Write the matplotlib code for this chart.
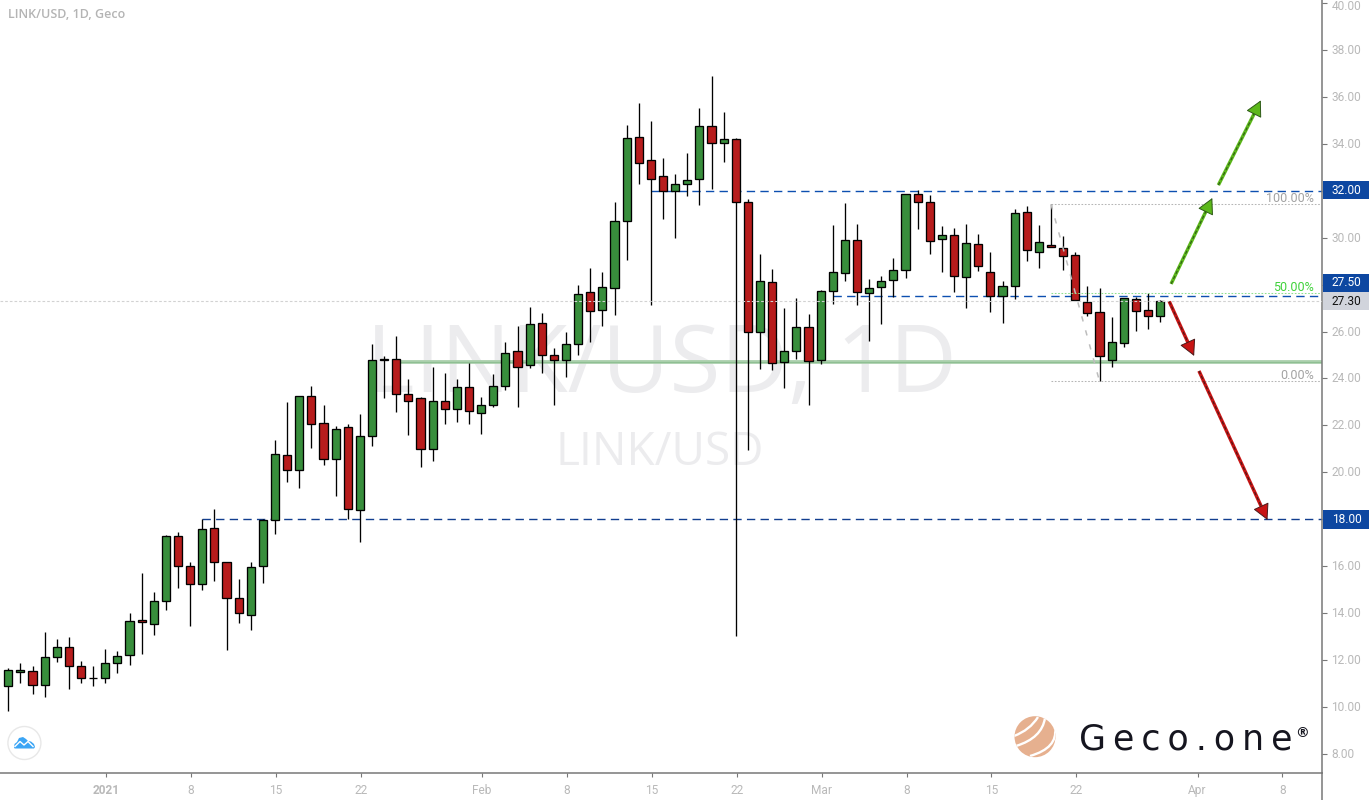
import numpy as np
import matplotlib
matplotlib.use("Agg")
import matplotlib.pyplot as plt
from matplotlib.patches import Rectangle, Circle, PathPatch, Polygon
from matplotlib.path import Path
from matplotlib.lines import Line2D
from matplotlib.transforms import Affine2D, ScaledTranslation

W, H = 1369, 800
AX_R, AX_B = 1322, 773
BASE_FONT = "Roboto"

# Days since 1 Jan 2021 for the first candle is -8; there is one candle per day.
first_day = -8
opens = [10.88,11.50,11.52,10.92,12.12,12.58,11.73,11.22,11.22,11.86,12.20,13.69,13.56,14.54,17.27,15.99,
         15.23,17.61,16.20,14.63,13.91,15.99,17.95,20.72,20.08,23.25,22.09,20.55,21.92,18.38,21.57,24.80,
         24.81,23.36,23.15,20.98,23.06,22.72,23.62,22.55,22.89,23.70,25.15,24.56,26.35,25.02,24.77,25.45,
         27.67,26.90,27.84,30.73,34.31,33.29,32.61,31.97,32.27,32.48,34.74,34.02,34.19,31.50,25.97,28.10,
         24.69,25.16,26.18,24.78,27.72,28.48,29.89,27.63,27.89,28.19,28.61,31.85,31.51,29.93,30.10,28.31,
         29.72,28.53,27.50,27.93,31.08,29.38,29.68,29.55,29.25,27.25,26.82,24.78,25.50,27.38,26.91,26.65]
highs = [11.65,11.86,11.77,13.18,12.88,12.97,11.95,11.73,12.46,12.37,14.00,15.71,14.89,17.31,17.44,16.16,
         18.00,18.46,16.20,15.44,16.20,18.00,21.36,22.98,23.25,23.68,22.87,21.96,22.06,22.47,25.49,24.95,
         25.83,23.96,23.23,24.47,24.22,23.96,24.64,23.19,24.17,25.54,26.22,27.03,26.81,25.28,26.00,27.99,
         28.69,28.52,31.50,34.78,35.72,34.95,33.38,32.70,33.59,35.51,36.87,35.34,34.23,31.63,29.29,28.65,
         26.99,27.42,26.74,27.76,30.53,31.47,30.57,28.23,28.36,29.12,31.85,32.02,31.81,30.49,30.40,30.57,
         30.15,29.38,28.14,31.21,31.34,30.53,31.42,30.06,29.38,27.93,27.84,26.61,27.42,27.46,27.63,27.33]
lows = [9.85,11.04,10.57,10.44,11.93,10.78,11.04,10.91,11.04,11.46,11.80,12.27,13.08,14.15,15.08,13.47,
        15.00,15.38,12.44,13.59,13.30,15.30,17.38,19.60,19.34,21.03,20.32,19.00,18.00,17.04,21.13,23.18,
        22.58,21.60,20.24,20.49,22.07,22.16,22.07,21.64,22.77,23.53,22.77,24.43,24.22,22.89,24.05,25.02,
        25.54,26.22,26.72,29.06,32.30,27.14,30.81,30.00,31.79,31.40,32.08,33.23,13.03,20.95,24.42,24.38,
        23.61,24.83,22.89,24.63,27.19,28.17,27.15,25.61,26.30,27.46,28.30,30.39,29.29,28.55,27.70,27.02,
        28.57,26.85,26.38,27.38,28.99,28.70,29.59,28.61,27.33,26.65,23.88,24.48,25.36,26.01,26.10,26.40]
closes = [11.56,11.56,10.92,12.12,12.58,11.73,11.22,11.22,11.86,12.16,13.65,13.61,14.50,17.27,15.99,15.23,
          17.57,16.20,14.63,13.99,15.95,17.95,20.77,20.08,23.25,22.04,20.55,21.83,18.42,21.57,24.77,24.83,
          23.36,23.02,20.98,23.06,22.72,23.62,22.60,22.89,23.70,25.07,24.51,26.30,25.02,24.77,25.45,27.62,
          26.86,27.88,30.69,34.23,33.20,32.52,31.97,32.27,32.44,34.74,34.02,34.19,31.50,25.97,28.14,24.65,
          25.16,26.18,24.73,27.72,28.53,29.89,27.67,27.84,28.14,28.61,31.85,31.51,29.85,30.10,28.36,29.76,
          28.78,27.50,27.93,31.04,29.46,29.80,29.59,29.21,27.33,26.78,24.95,25.54,27.42,26.86,26.65,27.29]

price_ticks = list(range(8, 41, 2))
hidden_price_tick = 28   # covered by the 27.50 scale label in the reference
date_tick_days = [0, 7, 14, 21, 31, 38, 45, 52, 59, 66, 73, 80, 90, 97]
date_tick_labels = ["2021", "8", "15", "22", "Feb", "8", "15", "22", "Mar", "8", "15", "22", "Apr", "8"]

level_upper = 32.00
level_mid = 27.50
level_lower = 18.00
level_support = 24.71
last_price = 27.30
fib_high = 31.42
fib_low = 23.88
fib_mid = 27.65
fib_start_day = 78
fib_end_day = 82

up_arrows = [((87.9, 28.03), (91.3, 31.69)), ((91.8, 32.24), (95.3, 35.85))]
down_arrows = [((87.75, 27.28), (89.8, 24.96)), ((90.2, 24.32), (95.85, 17.97))]

GREEN, RED = "#388E3C", "#B71C1C"
BLUE = "#0D47A1"
TICK = "#B9B9B9"

fig = plt.figure(figsize=(W / 100, H / 100), dpi=100, facecolor="white")
ax = fig.add_axes([0, (H - AX_B) / H, AX_R / W, AX_B / H])

# axis calibration
px_day, px_price = 12.125, 23.47
x0 = 105.3
ax.set_xlim(-x0 / px_day, (AX_R - x0) / px_day)
ax.set_ylim(8 + (754 - AX_B) / px_price, 8 + 754 / px_price)

for s in ("top", "left"):
    ax.spines[s].set_visible(False)
for s in ("right", "bottom"):
    ax.spines[s].set_color("#787878")
    ax.spines[s].set_linewidth(1.1)
ax.yaxis.tick_right()
ax.set_yticks(price_ticks)
ax.set_yticklabels(["" if v == hidden_price_tick else f"{v:.2f}" for v in price_ticks],
                   fontsize=8.6, color=TICK, family=BASE_FONT)
ax.tick_params(axis="y", length=3.6, width=0.8, color="#787878", pad=3.2)
up_one_px = ScaledTranslation(0, 1 / 100, fig.dpi_scale_trans)
down_two_px = ScaledTranslation(0, -2 / 100, fig.dpi_scale_trans)
for v, lab in zip(price_ticks, ax.get_yticklabels()):
    # the top label stays just inside the picture
    lab.set_transform(lab.get_transform() + (down_two_px if v == price_ticks[-1] else up_one_px))
ax.set_xticks(np.array(date_tick_days) + 0.08)
ax.set_xticklabels(date_tick_labels, fontsize=8.6, color=TICK, family=BASE_FONT)
ax.tick_params(axis="x", length=3, width=0.8, color="#787878", pad=5)
ax.get_xticklabels()[0].set_fontweight("bold")

PX = Affine2D().scale(1 / W, -1 / H).translate(0, 1) + fig.transFigure

# watermark and header
ax.text(661 / W, 1 - 392 / H, "LINK/USD, 1D", transform=fig.transFigure, ha="center", va="baseline",
        fontsize=67, color="#ECECEE", family="Open Sans", zorder=0)
ax.text(660 / W, 1 - 465 / H, "LINK/USD", transform=fig.transFigure, ha="center", va="baseline",
        fontsize=33, color="#ECECEE", family="Open Sans", zorder=0)
ax.text(8 / W, 1 - 15 / H, "LINK/USD, 1D, Geco", transform=fig.transFigure, ha="left", va="center",
        fontsize=9, color="#B4B4B4", family="Open Sans", fontweight="semibold", zorder=6)

# levels beneath the candles
right = ax.get_xlim()[1]
left = ax.get_xlim()[0]
dash = (0, (6.0, 3.8))
ax.plot([24.3, right], [level_support] * 2, color="#A9CFAB", lw=2.7, zorder=1, solid_capstyle="butt")
ax.plot([24.3, right], [level_support] * 2, color="#8FBF93", lw=0.7, zorder=1.1, solid_capstyle="butt")
ax.plot([45, right], [level_upper] * 2, color="#0D4FB0", lw=1.0, ls=dash, zorder=1.2)
ax.plot([60, right], [level_mid] * 2, color="#0D4FB0", lw=1.0, ls=dash, zorder=1.2)
ax.plot([8, right], [level_lower] * 2, color="#123E8F", lw=1.0, ls=dash, zorder=1.2)

# candles
days = first_day + np.arange(len(opens))
o, h, l, c = map(np.array, (opens, highs, lows, closes))
colors = np.where(c >= o, GREEN, RED)
ax.vlines(days, l, h, color="black", lw=0.95, zorder=2)
ax.bar(days, np.abs(c - o), bottom=np.minimum(o, c), width=0.67, color=colors, edgecolor="black",
       linewidth=0.95, zorder=3)

# last price line above candles
ax.plot([left, right], [last_price] * 2, color="#D2D2D2", lw=0.8, ls=(0, (2.4, 1.8)), zorder=4)

# fib retracement
ax.plot([fib_start_day, fib_end_day], [fib_high, fib_low], color="#BDBDBD", lw=1.1, ls=(0, (3.5, 6)), zorder=4)
for val, col in ((fib_high, "#B5B5B5"), (fib_low, "#B5B5B5"), (fib_mid, "#8FE08F")):
    ax.plot([fib_start_day, right - 0.1], [val] * 2, color=col, lw=0.75, ls=(0, (1.6, 1.6)), zorder=4)
ytr = ax.get_yaxis_transform()
for val, txt, col in ((fib_high, "100.00%", "#A2A2A2"), (fib_mid, "50.00%", "#3FD23A"), (fib_low, "0.00%", "#A2A2A2")):
    ax.text(1314 / AX_R, val - 0.03, txt, transform=ytr, ha="right", va="bottom", fontsize=9,
            color=col, family=BASE_FONT, zorder=5)


# trend arrows
def draw_arrow(start, end, face, edge):
    s, e = np.array(start), np.array(end)
    length = np.hypot((e[0] - s[0]) * px_day, (e[1] - s[1]) * px_price)
    neck = s + (1 - 13 / length) * (e - s)
    ax.plot([s[0], neck[0]], [s[1], neck[1]], color=face, lw=2.5, zorder=5, solid_capstyle="butt")
    ax.plot([s[0], neck[0]], [s[1], neck[1]], color=edge, lw=0.8, ls=(0, (3, 2)), zorder=5.1)
    ax.annotate("", xy=e, xytext=neck, zorder=5.2,
                arrowprops=dict(arrowstyle="-|>,head_length=0.72,head_width=0.38", mutation_scale=14,
                                facecolor=face, edgecolor=edge, lw=0.7, shrinkA=0, shrinkB=0))


for a, b in up_arrows:
    draw_arrow(a, b, "#5CB81A", "#2E5A18")
for a, b in down_arrows:
    draw_arrow(a, b, "#C81414", "#4A1A1A")

# price labels on the scale
box_w = (W - AX_R) / AX_R
boxes = [(32.03, f"{level_upper:.2f}", BLUE, "white"),
         (28.07, f"{level_mid:.2f}", BLUE, "white"),
         (27.30, f"{last_price:.2f}", "#D1D4DC", "#111111"),
         (18.00, f"{level_lower:.2f}", BLUE, "white")]
bh = 18.5 / px_price
for pos, txt, fc, tc in boxes:
    ax.add_patch(Rectangle((1.0005, pos - bh / 2), box_w, bh, transform=ytr, facecolor=fc, edgecolor="none",
                           clip_on=False, zorder=7))
    ax.text(1332 / AX_R, pos, txt, transform=ytr, ha="left", va="center", fontsize=8.6, color=tc,
            family=BASE_FONT, zorder=8, clip_on=False)

# axis stub under the time scale
fig.add_artist(Line2D([AX_R, AX_R], [AX_B, H], transform=PX, color="#787878", lw=1.1))

# chart-service badge
fig.add_artist(Circle((24.4, 743), 16.5, transform=PX, facecolor="white", edgecolor="#E8E8E8", lw=1))
cloud = [(14, 748), (14.5, 744), (17, 742), (19, 738), (23, 737), (26, 739), (28, 741), (31, 741.5),
         (34, 744), (35, 747), (34, 748.5), (15, 748.5)]
fig.add_artist(Polygon(cloud, closed=True, transform=PX, facecolor="#3BA5F5", edgecolor="none"))
fig.add_artist(Line2D([15, 20, 24, 28, 33], [746.5, 741.5, 745, 741.5, 746.5], transform=PX, color="white", lw=1))

# Geco.one logo
sphere = Circle((1035, 736.7), 20.5, transform=PX, facecolor="#E6B08F", edgecolor="none")
fig.add_artist(sphere)
swooshes = [[(1014, 736), (1030, 730), (1038, 717)],
            [(1016, 746), (1042, 738), (1045, 718)],
            [(1030, 756), (1058, 748), (1055, 728)]]
for pts in swooshes:
    p = PathPatch(Path(pts, [Path.MOVETO, Path.CURVE3, Path.CURVE3]), transform=PX, facecolor="none",
                  edgecolor="white", lw=1.7)
    fig.add_artist(p)
    p.set_clip_path(sphere)
ax.text(1079 / W, 1 - 750 / H, "\u2009".join("Geco.one"), transform=fig.transFigure, ha="left", va="baseline",
        fontsize=25, color="#15151F", family="DejaVu Sans", zorder=6)
ax.text(1302 / W, 1 - 737 / H, "®", transform=fig.transFigure, ha="center", va="baseline",
        fontsize=10, color="#15151F", family="DejaVu Sans", fontweight="bold", zorder=6)

fig.savefig("out.png", dpi=100, facecolor="white")
